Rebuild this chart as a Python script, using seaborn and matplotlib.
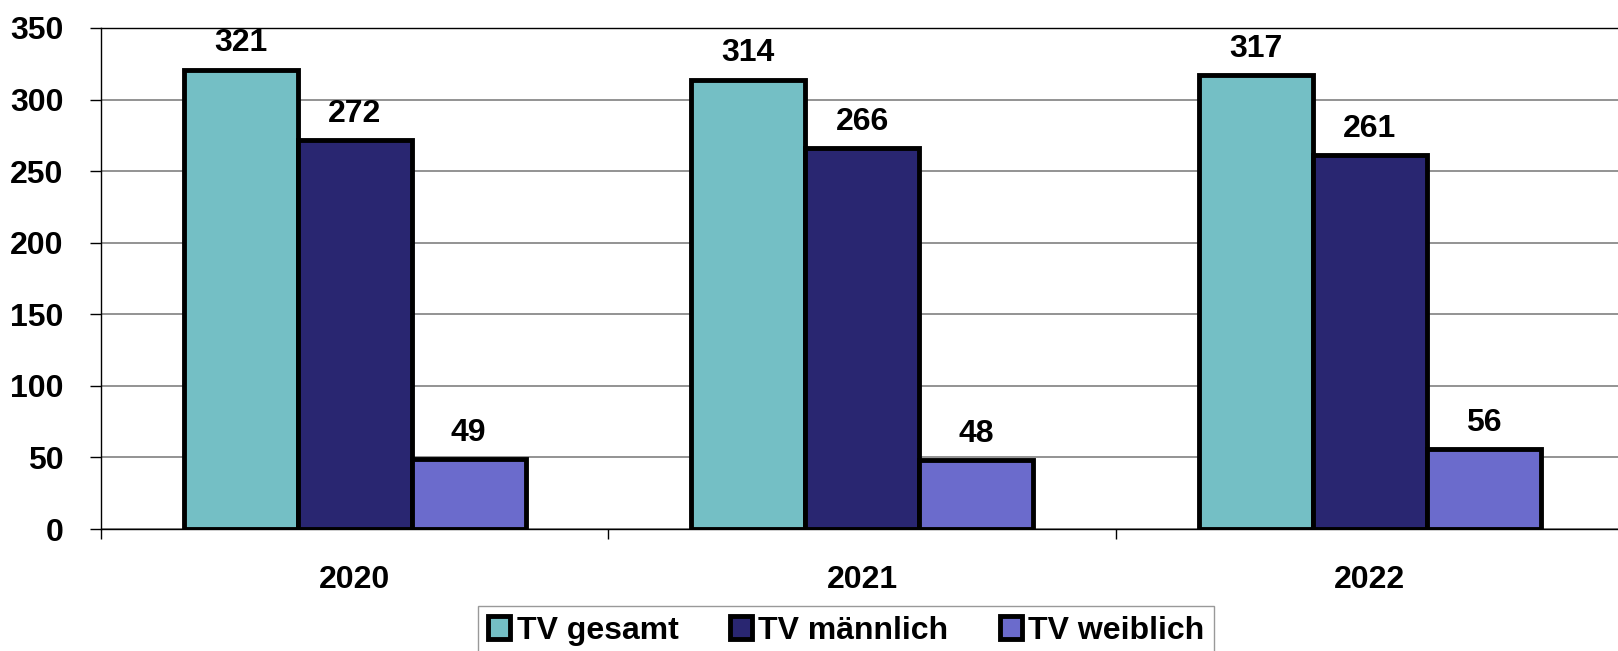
import pandas as pd
import seaborn as sns
import matplotlib.pyplot as plt

years = ['2020', '2021', '2022']
series = ['TV gesamt', 'TV männlich', 'TV weiblich']
gesamt = [321, 314, 317]
maennlich = [272, 266, 261]
weiblich = [49, 48, 56]
colors = ['#74BFC5', '#292671', '#6B6BCC']

df = pd.DataFrame({
    'year': years * 3,
    'series': [series[0]] * 3 + [series[1]] * 3 + [series[2]] * 3,
    'value': gesamt + maennlich + weiblich,
})

sns.set_style('white')
plt.rcParams['font.family'] = ['Liberation Sans Narrow', 'Liberation Sans', 'DejaVu Sans']
plt.rcParams['font.weight'] = 'bold'
plt.rcParams['text.color'] = 'black'
plt.rcParams['xtick.color'] = 'black'
plt.rcParams['ytick.color'] = 'black'

fig = plt.figure(figsize=(16.18, 6.51), dpi=100)
ax = fig.add_axes([0.0624, 0.1874, 0.941, 0.7696])

sns.barplot(data=df, x='year', y='value', hue='series', palette=colors,
            width=0.674, saturation=1, edgecolor='black', linewidth=3.5,
            ax=ax, legend=True)

for c in ax.containers:
    ax.bar_label(c, padding=8, fontsize=23, fontweight='bold', color='black')

ax.set_ylim(0, 350)
ax.set_xlim(-0.5, 2.5)
ax.set_yticks(range(0, 351, 50))
ax.set_xlabel('')
ax.set_ylabel('')
ax.yaxis.grid(True, color='#808080', linewidth=1.2)
ax.set_axisbelow(True)

for s in ['left', 'bottom', 'top']:
    ax.spines[s].set_visible(True)
    ax.spines[s].set_color('black')
    ax.spines[s].set_linewidth(1)
ax.spines['right'].set_visible(False)

ax.tick_params(axis='y', which='major', left=True, direction='out', length=8,
               width=1, color='black', pad=19, labelsize=23, labelcolor='black')
ax.set_xticks([-0.5, 0.5, 1.5, 2.5], minor=True)
ax.tick_params(axis='x', which='minor', bottom=True, direction='out', length=7,
               width=1, color='black')
ax.tick_params(axis='x', which='major', length=0, pad=26, labelsize=23,
               labelcolor='black')
for lab in ax.get_xticklabels() + ax.get_yticklabels():
    lab.set_fontweight('bold')

handles, labels = ax.get_legend_handles_labels()
ax.get_legend().remove()
leg = fig.legend(handles, labels, loc='upper center', bbox_to_anchor=(0.523, 0.069),
                 ncol=3, frameon=True, fancybox=False, edgecolor='#808080',
                 fontsize=23, handlelength=0.7, handleheight=0.7,
                 handletextpad=0.2, columnspacing=1.6, borderpad=0.3,
                 borderaxespad=0)
for t in leg.get_texts():
    t.set_fontweight('bold')
    t.set_color('black')

fig.savefig('out.png', dpi=100)
